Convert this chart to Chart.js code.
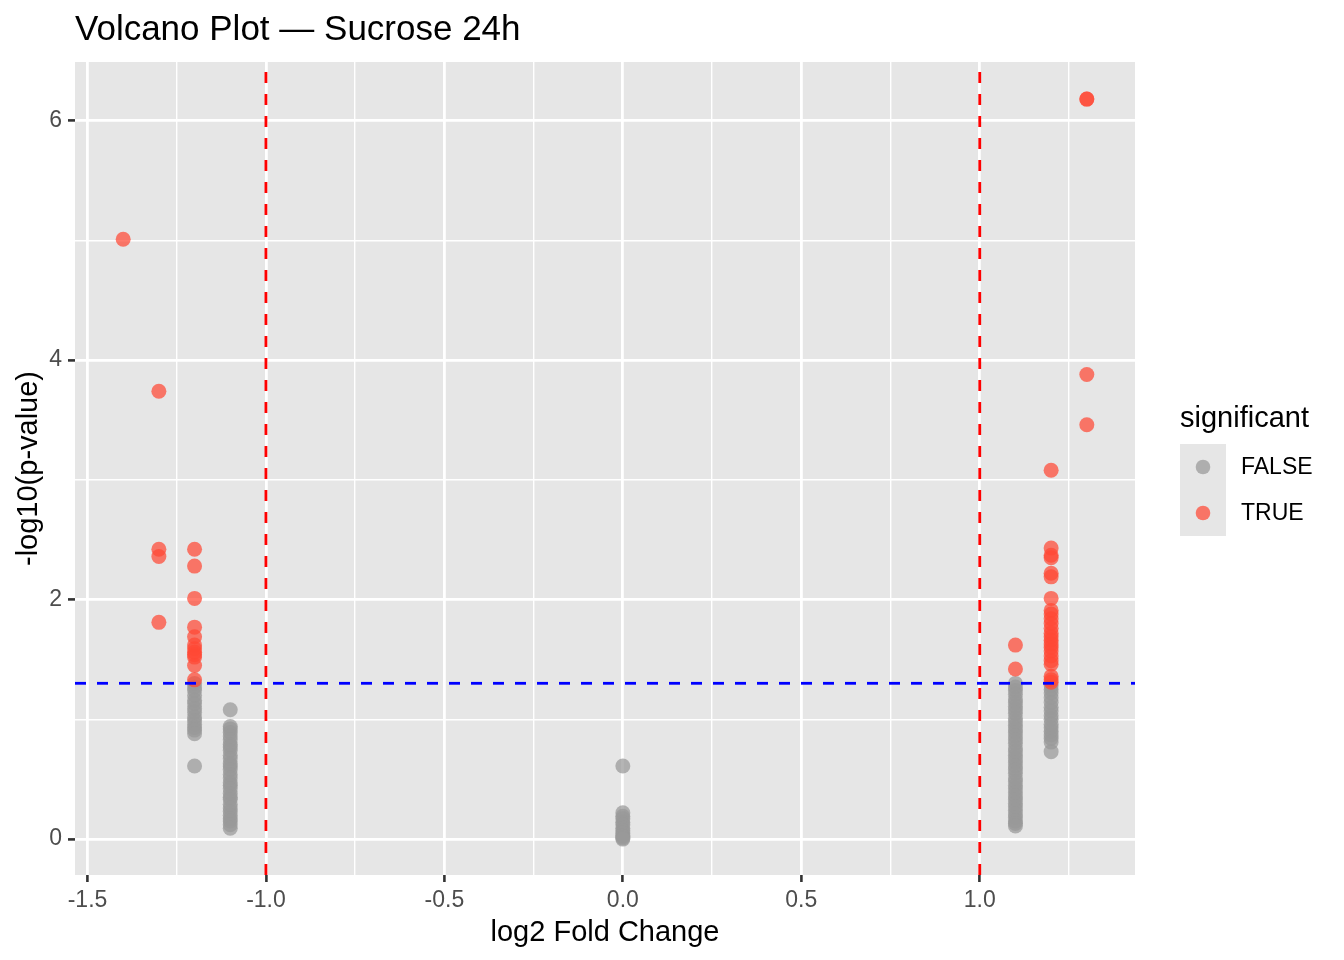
<!DOCTYPE html>
<html>
<head>
<meta charset="utf-8">
<title>Volcano Plot — Sucrose 24h</title>
<script src="https://cdn.jsdelivr.net/npm/chart.js@4.4.1/dist/chart.umd.min.js"></script>
<style>
  html, body { margin: 0; padding: 0; background: #fff; }
  canvas { display: block; }
</style>
</head>
<body>
<canvas id="volcano" width="1344" height="960"></canvas>
<script>
// log2 fold change columns and their -log10(p) values
const grayNeg12 = [1.30, 1.27, 1.24, 1.20, 1.16, 1.13, 1.09, 1.06, 1.02, 0.99, 0.96, 0.93, 0.91, 0.88, 0.61];
const grayNeg11 = [1.08, 0.94, 0.92, 0.89, 0.86, 0.83, 0.79, 0.77, 0.74, 0.70, 0.67, 0.63, 0.61, 0.58, 0.54,
                   0.51, 0.47, 0.45, 0.42, 0.38, 0.35, 0.33, 0.29, 0.26, 0.23, 0.20, 0.17, 0.15, 0.12, 0.09];
const grayZero  = [0.61, 0.22, 0.19, 0.17, 0.14, 0.12, 0.09, 0.07, 0.05, 0.03, 0.02, 0.01, 0.00];
const grayPos11 = [1.30, 1.27, 1.24, 1.21, 1.17, 1.14, 1.11, 1.08, 1.05, 1.01, 0.98, 0.95, 0.92, 0.89, 0.86,
                   0.83, 0.80, 0.76, 0.73, 0.70, 0.67, 0.64, 0.61, 0.58, 0.55, 0.51, 0.48, 0.45, 0.42, 0.39,
                   0.36, 0.33, 0.30, 0.27, 0.24, 0.21, 0.18, 0.15, 0.13, 0.11];
const grayPos12 = [1.28, 1.25, 1.22, 1.18, 1.14, 1.10, 1.07, 1.03, 1.00, 0.96, 0.93, 0.90, 0.87, 0.84, 0.81, 0.73];

const redNeg14 = [5.01];
const redNeg13 = [3.74, 2.42, 2.36, 1.81];
const redNeg12 = [2.42, 2.28, 2.01, 1.77, 1.69, 1.62, 1.59, 1.56, 1.54, 1.52, 1.45, 1.33];
const redPos11 = [1.62, 1.42];
const redPos12 = [3.08, 2.43, 2.37, 2.35, 2.22, 2.19, 2.01, 1.91, 1.88, 1.84, 1.80, 1.76, 1.72, 1.69,
                  1.66, 1.63, 1.60, 1.57, 1.53, 1.49, 1.46, 1.36, 1.33, 1.31];
const redPos13 = [6.18, 6.18, 3.88, 3.46];

const fcCutoffs = [-1, 1];
const pCutoff = 1.301;

const xTicks = [-1.5, -1.25, -1.0, -0.75, -0.5, -0.25, 0, 0.25, 0.5, 0.75, 1.0, 1.25];
const xMajor = [-1.5, -1.0, -0.5, 0, 0.5, 1.0];
const yTicks = [0, 1, 2, 3, 4, 5, 6];
const yMajor = [0, 2, 4, 6];

const xMin = -1.535, xMax = 1.435;
const yMin = -0.300, yMax = 6.490;

const FONT = '"Liberation Sans", Arial, Helvetica, sans-serif';
const grayCol = 'rgba(153,153,153,0.72)';
const redCol = 'rgba(255,72,52,0.72)';

function col(x, ys) { return ys.map(y => ({ x: x, y: y })); }
function isMajor(list, v) { return list.some(m => Math.abs(m - v) < 1e-9); }

const falsePts = [].concat(col(-1.2, grayNeg12), col(-1.1, grayNeg11), col(0, grayZero),
                           col(1.1, grayPos11), col(1.2, grayPos12));
const truePts = [].concat(col(-1.4, redNeg14), col(-1.3, redNeg13), col(-1.2, redNeg12),
                          col(1.1, redPos11), col(1.2, redPos12), col(1.3, redPos13));

function gridFor(major) {
  return {
    color: '#ffffff',
    lineWidth: c => (c.tick && isMajor(major, c.tick.value)) ? 2.8 : 1.4,
    tickColor: c => (c.tick && isMajor(major, c.tick.value)) ? '#333333' : 'rgba(0,0,0,0)',
    tickWidth: 2.6,
    tickLength: 7,
    drawTicks: true
  };
}

const panelPlugin = {
  id: 'panel',
  beforeDraw(chart) {
    const ctx = chart.ctx, a = chart.chartArea;
    ctx.save();
    ctx.fillStyle = '#ffffff';
    ctx.fillRect(0, 0, chart.width, chart.height);
    ctx.fillStyle = '#E6E6E6';
    ctx.fillRect(a.left, a.top, a.right - a.left, a.bottom - a.top);
    ctx.restore();
  },
  afterDraw(chart) {
    const ctx = chart.ctx, a = chart.chartArea;
    ctx.save();
    ctx.fillStyle = '#000000';
    ctx.textBaseline = 'alphabetic';

    // title
    ctx.font = '35px ' + FONT;
    ctx.textAlign = 'left';
    ctx.fillText('Volcano Plot — Sucrose 24h', 75, 40);

    // axis titles
    ctx.font = '29px ' + FONT;
    ctx.textAlign = 'center';
    ctx.fillText('log2 Fold Change', (a.left + a.right) / 2, 941);
    ctx.save();
    ctx.translate(37, (a.top + a.bottom) / 2);
    ctx.rotate(-Math.PI / 2);
    ctx.fillText('-log10(p-value)', 0, 0);
    ctx.restore();

    // legend
    ctx.textAlign = 'left';
    ctx.font = '29px ' + FONT;
    ctx.fillText('significant', 1180, 427);
    ctx.fillStyle = '#E6E6E6';
    ctx.fillRect(1180, 444, 46, 92);
    const keys = [['FALSE', grayCol, 467], ['TRUE', redCol, 513]];
    keys.forEach(([lab, colr, cy]) => {
      ctx.fillStyle = colr;
      ctx.beginPath();
      ctx.arc(1203, cy, 7.3, 0, Math.PI * 2);
      ctx.fill();
      ctx.fillStyle = '#000000';
      ctx.font = '23px ' + FONT;
      ctx.textBaseline = 'middle';
      ctx.fillText(lab, 1241, cy + 1);
      ctx.textBaseline = 'alphabetic';
    });
    ctx.restore();
  }
};

new Chart(document.getElementById('volcano'), {
  type: 'scatter',
  data: {
    datasets: [
      {
        type: 'line', label: 'fcLow',
        data: [{ x: fcCutoffs[0], y: yMin }, { x: fcCutoffs[0], y: yMax }],
        borderColor: '#FF0000', borderWidth: 2.8, borderDash: [11, 11],
        pointRadius: 0, fill: false, order: 0
      },
      {
        type: 'line', label: 'fcHigh',
        data: [{ x: fcCutoffs[1], y: yMin }, { x: fcCutoffs[1], y: yMax }],
        borderColor: '#FF0000', borderWidth: 2.8, borderDash: [11, 11],
        pointRadius: 0, fill: false, order: 0
      },
      {
        type: 'line', label: 'pLine',
        data: [{ x: xMin, y: pCutoff }, { x: xMax, y: pCutoff }],
        borderColor: '#0000FF', borderWidth: 2.8, borderDash: [11, 11],
        pointRadius: 0, fill: false, order: 0
      },
      {
        label: 'TRUE', data: truePts,
        backgroundColor: redCol, borderWidth: 0, pointRadius: 7.5, pointHoverRadius: 7.5, order: 1
      },
      {
        label: 'FALSE', data: falsePts,
        backgroundColor: grayCol, borderWidth: 0, pointRadius: 7.5, pointHoverRadius: 7.5, order: 2
      }
    ]
  },
  options: {
    responsive: false,
    animation: false,
    events: [],
    layout: { padding: { left: 0, top: 62, right: 209, bottom: 0 } },
    plugins: { legend: { display: false }, tooltip: { enabled: false }, title: { display: false } },
    scales: {
      x: {
        type: 'linear', min: xMin, max: xMax,
        afterBuildTicks: s => { s.ticks = xTicks.map(v => ({ value: v })); },
        afterFit: s => { s.height = 85; },
        grid: gridFor(xMajor),
        border: { display: false },
        ticks: {
          autoSkip: false, maxRotation: 0, padding: 5,
          color: '#4D4D4D', font: { family: FONT, size: 23 },
          callback: v => isMajor(xMajor, v) ? v.toFixed(1) : ''
        }
      },
      y: {
        type: 'linear', min: yMin, max: yMax,
        afterBuildTicks: s => { s.ticks = yTicks.map(v => ({ value: v })); },
        afterFit: s => { s.width = 75; },
        grid: gridFor(yMajor),
        border: { display: false },
        ticks: {
          autoSkip: false, padding: 6,
          color: '#4D4D4D', font: { family: FONT, size: 23 },
          callback: v => isMajor(yMajor, v) ? String(v) : ''
        }
      }
    }
  },
  plugins: [panelPlugin]
});
</script>
</body>
</html>
